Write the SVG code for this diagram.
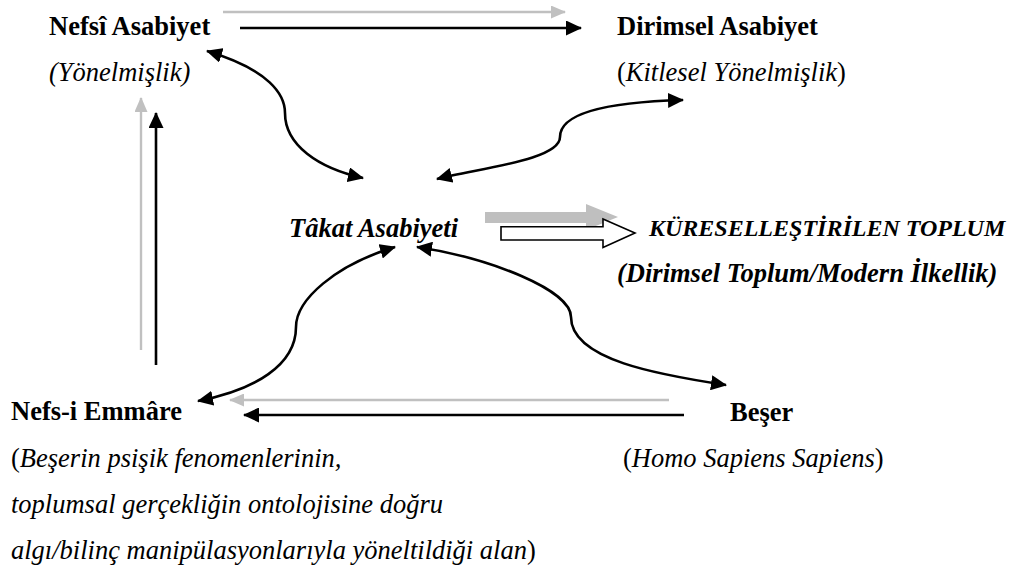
<svg xmlns="http://www.w3.org/2000/svg" width="1012" height="569" viewBox="0 0 1012 569">
<defs>
<style>
.b{font-weight:bold}
.i{font-style:italic}
.bi{font-weight:bold;font-style:italic}
.k{fill:none;stroke:#000;stroke-width:2.6}
.g{fill:none;stroke:#c0c0c0;stroke-width:2.4}
</style>
<marker id="ak" viewBox="0 0 16 15" refX="15" refY="7.5" markerWidth="16" markerHeight="15" markerUnits="userSpaceOnUse" orient="auto-start-reverse"><path d="M0,0 L16,7.5 L0,15 Z" fill="#000"/></marker>
<marker id="ag" viewBox="0 0 15 13" refX="14" refY="6.5" markerWidth="15" markerHeight="13" markerUnits="userSpaceOnUse" orient="auto-start-reverse"><path d="M0,0 L15,6.5 L0,13 Z" fill="#c0c0c0"/></marker>
</defs>
<rect width="1012" height="569" fill="#fff"/>

<g id="connectors">
<path class="g" d="M223,12 H565" marker-end="url(#ag)"/>
<path class="k" d="M240,28 H581" marker-end="url(#ak)"/>
<path class="g" d="M141,350 V98" marker-end="url(#ag)"/>
<path class="k" d="M156,365 V113" marker-end="url(#ak)"/>
<path class="g" d="M669,400 H230" marker-end="url(#ag)"/>
<path class="k" d="M684,415 H244" marker-end="url(#ak)"/>
<path class="k" d="M207,51 C270,70 285,95 285,113 C285,145 318,168 363,178" marker-start="url(#ak)" marker-end="url(#ak)"/>
<path class="k" d="M437,179 C480,168 560,160 560,137 C560,112 610,102 683,100" marker-start="url(#ak)" marker-end="url(#ak)"/>
<path class="k" d="M395,247 C335,265 296,300 296,327 C296,365 255,390 198,401" marker-start="url(#ak)" marker-end="url(#ak)"/>
<path class="k" d="M417,247 C490,258 571,290 571,317 C571,360 660,375 726,385" marker-start="url(#ak)" marker-end="url(#ak)"/>
<polygon points="485,212 586,212 586,204 618,217 586,230 586,223 485,223" fill="#bfbfbf"/>
<polygon points="501,226.7 603,226.7 603,219 635,233 603,247.5 603,240 501,240" fill="#fff" stroke="#000" stroke-width="1.6"/>
</g>

<g font-family="Liberation Serif, DejaVu Serif, serif" font-size="26.5" fill="#000">
<g id="nefsi-asabiyet">
<text class="b" x="49" y="35">Nefsî Asabiyet</text>
<text class="i" x="49" y="81">(Yönelmişlik)</text>
</g>
<g id="dirimsel-asabiyet">
<text class="b" x="617" y="35">Dirimsel Asabiyet</text>
<text x="617" y="81">(<tspan class="i">Kitlesel Yönelmişlik</tspan>)</text>
</g>
<g id="takat-asabiyeti">
<text class="bi" x="289" y="237">Tâkat Asabiyeti</text>
</g>
<g id="kuresellestirilen-toplum">
<text class="bi" x="649" y="236" font-size="24">KÜRESELLEŞTİRİLEN TOPLUM</text>
<text class="bi" x="617" y="282">(Dirimsel Toplum/Modern İlkellik)</text>
</g>
<g id="nefs-i-emmare">
<text class="b" x="11" y="420">Nefs-i Emmâre</text>
<text x="11" y="467">(<tspan class="i">Beşerin psişik fenomenlerinin,</tspan></text>
<text class="i" x="11" y="513">toplumsal gerçekliğin ontolojisine doğru</text>
<text x="11" y="559"><tspan class="i">algı/bilinç manipülasyonlarıyla yöneltildiği alan</tspan>)</text>
</g>
<g id="beser">
<text class="b" x="730" y="421">Beşer</text>
<text x="623" y="467">(<tspan class="i">Homo Sapiens Sapiens</tspan>)</text>
</g>
</g>
</svg>
